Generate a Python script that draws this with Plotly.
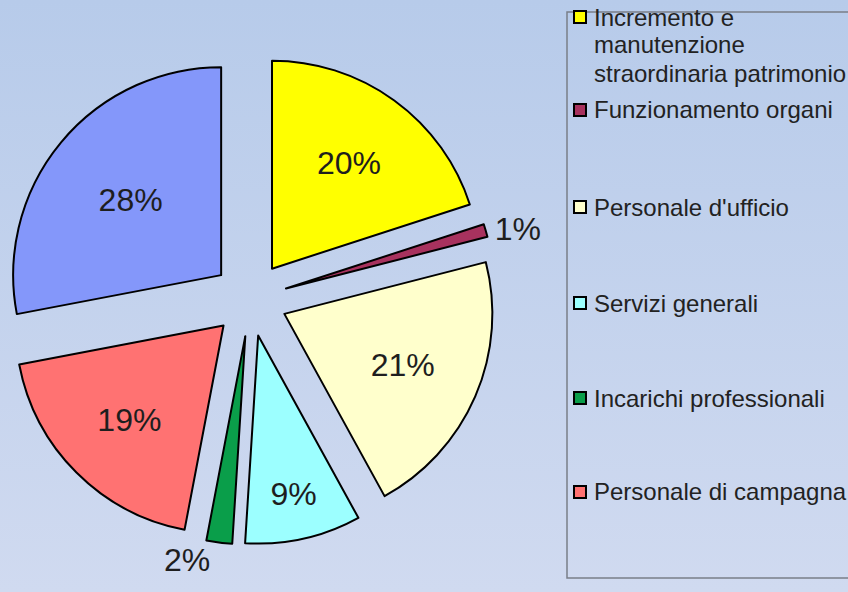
import base64
import plotly.graph_objects as go

# ---- data ----
categories = [
    "Incremento e manutenzione straordinaria patrimonio",
    "Funzionamento organi",
    "Personale d'ufficio",
    "Servizi generali",
    "Incarichi professionali",
    "Personale di campagna",
    "Altre spese",
]
values = [20, 1, 21, 9, 2, 19, 28]
colors = ["#FFFF00", "#A8325E", "#FFFFCC", "#9CFFFF", "#0A9E4A", "#FF7272", "#8497FA"]
legend_labels = [
    "Incremento e<br>manutenzione<br>straordinaria patrimonio",
    "Funzionamento organi",
    "Personale d'ufficio",
    "Servizi generali",
    "Incarichi professionali",
    "Personale di campagna",
]

W, H = 848, 592
FONT = "Liberation Sans, Arial, sans-serif"

def px(x):
    return x / W

def py(y):
    return 1 - y / H

# pie geometry (pixels)
cx, cy, R, pull = 250, 299, 208, 0.18
half = R * (1 + pull)

text_pos = ["inside" if v >= 5 else "outside" for v in values]

fig = go.Figure(go.Pie(
    labels=categories,
    values=values,
    sort=False,
    direction="clockwise",
    rotation=0,
    pull=pull,
    marker=dict(colors=colors, line=dict(color="#000000", width=2)),
    textinfo="percent",
    textposition=text_pos,
    insidetextorientation="horizontal",
    textfont=dict(family=FONT, size=32, color="#1e1e1e"),
    showlegend=False,
    domain=dict(x=[px(cx - half), px(cx + half)], y=[py(cy + half), py(cy - half)]),
))

# background gradient
svg = (
    '<svg xmlns="http://www.w3.org/2000/svg" width="848" height="592" preserveAspectRatio="none">'
    '<defs><linearGradient id="g" x1="0" y1="0" x2="0" y2="1">'
    '<stop offset="0" stop-color="rgb(183,203,234)"/>'
    '<stop offset="1" stop-color="rgb(208,218,240)"/>'
    '</linearGradient></defs>'
    '<rect width="848" height="592" fill="url(#g)"/></svg>'
)
src = "data:image/svg+xml;base64," + base64.b64encode(svg.encode()).decode()

shapes = []
annotations = []

# legend box
shapes.append(dict(type="rect", xref="paper", yref="paper",
                   x0=px(567), x1=px(870), y0=py(578), y1=py(12),
                   line=dict(color="#7a7f88", width=1.5), fillcolor="rgba(0,0,0,0)"))

item_y = [17, 110, 207, 303, 398, 492]
line_h = 28
for lab, col, yy in zip(legend_labels, colors, item_y):
    shapes.append(dict(type="rect", xref="paper", yref="paper",
                       x0=px(574), x1=px(586), y0=py(yy + 6), y1=py(yy - 6),
                       fillcolor=col, line=dict(color="#000000", width=2)))
    for k, ln in enumerate(lab.split("<br>")):
        annotations.append(dict(xref="paper", yref="paper", x=px(592), y=py(yy + k * line_h),
                                xanchor="left", yanchor="middle", showarrow=False,
                                text=ln, font=dict(family=FONT, size=24, color="#222222")))

fig.update_layout(
    width=W, height=H,
    margin=dict(l=0, r=0, t=0, b=0, autoexpand=False),
    paper_bgcolor="#C3D1EC",
    plot_bgcolor="#C3D1EC",
    images=[dict(source=src, xref="paper", yref="paper", x=0, y=1, sizex=1, sizey=1,
                 sizing="stretch", layer="below", xanchor="left", yanchor="top")],
    shapes=shapes,
    annotations=annotations,
)

fig.write_html("out.html", config={"displayModeBar": False},
               post_script="document.body.style.margin='0px';document.body.style.overflow='hidden';")
